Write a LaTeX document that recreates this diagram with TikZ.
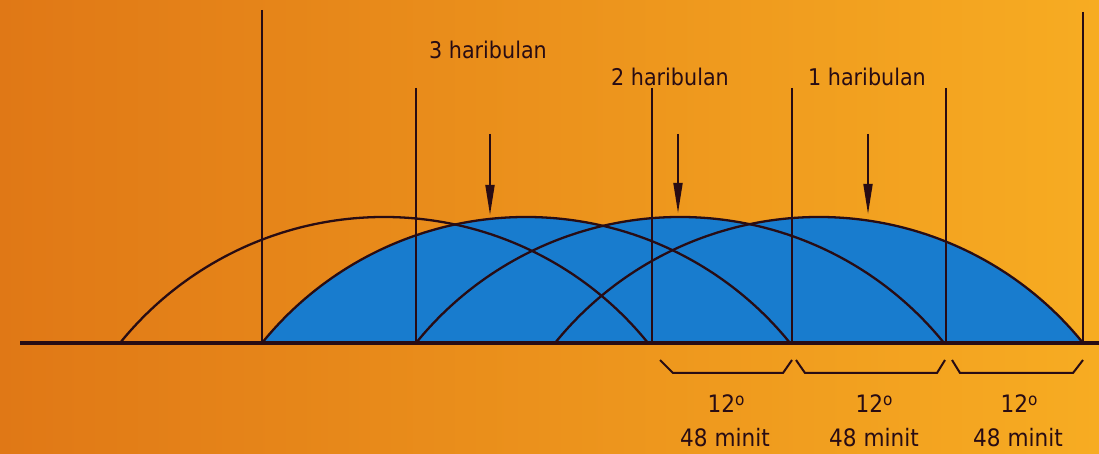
\documentclass[tikz,border=0pt]{standalone}
\usepackage{fontspec}
\setmainfont{DejaVu Sans}[FakeStretch=0.9]
\usetikzlibrary{arrows.meta}
\definecolor{bgL}{RGB}{224,120,22}
\definecolor{bgR}{RGB}{247,172,34}
\definecolor{skyblue}{RGB}{24,124,206}
\definecolor{ink}{RGB}{40,12,20}
\tikzset{
  arcline/.style={draw=ink, line width=2.3pt},
  vline/.style={draw=ink, line width=2.4pt},
  baseln/.style={draw=ink, line width=3.4pt},
  downarrow/.style={draw=ink, line width=1.8pt, -{Triangle[length=30pt,width=9pt]}},
  bracket/.style={draw=ink, line width=2pt, line join=miter},
  toplabel/.style={inner sep=0pt, anchor=base, text=ink, font=\fontsize{23}{23}\selectfont},
  botlabel/.style={inner sep=0pt, anchor=base, text=ink, font=\fontsize{24}{24}\selectfont},
}
\newcommand{\dego}{12\raisebox{0.33em}{\fontsize{17}{17}\selectfont o}}
\begin{document}
\begin{tikzpicture}[x=1pt,y=1pt]
\useasboundingbox (0,0) rectangle (1099,454);
\shade[left color=bgL, right color=bgR] (0,0) rectangle (1099,454);
% blue filled region: union of three arcs
\foreach \a in {262,416,555} {
  \fill[skyblue] (\a,111) arc[start angle=141.03, end angle=38.97, radius=339.57] -- cycle;
}
% arcs
\foreach \a in {120,262,416,555} {
  \draw[arcline] (\a,111) arc[start angle=141.03, end angle=38.97, radius=339.57];
}
% baseline
\coordinate (bl) at (20,111);
\coordinate (br) at (1099,111);
\draw[baseln] (bl) -- (br);
% vertical lines
\coordinate (v1t) at (262,444); \coordinate (v1b) at (262,111);
\coordinate (v2t) at (416,366); \coordinate (v2b) at (416,111);
\coordinate (v3t) at (652,366); \coordinate (v3b) at (652,111);
\coordinate (v4t) at (792,366); \coordinate (v4b) at (792,111);
\coordinate (v5t) at (946,366); \coordinate (v5b) at (946,111);
\coordinate (v6t) at (1083,442); \coordinate (v6b) at (1083,111);
\foreach \i in {1,...,6} { \draw[vline] (v\i t) -- (v\i b); }
% arrows
\coordinate (a1s) at (490,320); \coordinate (a1e) at (490,239);
\coordinate (a2s) at (678,320); \coordinate (a2e) at (678,241);
\coordinate (a3s) at (868,320); \coordinate (a3e) at (868,240);
\draw[downarrow] (a1s) -- (a1e);
\draw[downarrow] (a2s) -- (a2e);
\draw[downarrow] (a3s) -- (a3e);
% brackets
\draw[bracket] (660,94) -- (673,81) -- (783,81) -- (792,94);
\draw[bracket] (796,94) -- (805,81) -- (937,81) -- (945,94);
\draw[bracket] (952,94) -- (960,81) -- (1073,81) -- (1083,94);
% top labels
\node[toplabel] (h3) at (488,395) {3 haribulan};
\node[toplabel] (h2) at (670,368) {2 haribulan};
\node[toplabel] (h1) at (867,368) {1 haribulan};
% bottom labels
\node[botlabel] (d1) at (726,41) {\dego};
\node[botlabel] (d2) at (874,41) {\dego};
\node[botlabel] (d3) at (1019,41) {\dego};
\node[botlabel] (m1) at (725,7) {48 minit};
\node[botlabel] (m2) at (874,7) {48 minit};
\node[botlabel] (m3) at (1018,7) {48 minit};
\end{tikzpicture}
\end{document}
